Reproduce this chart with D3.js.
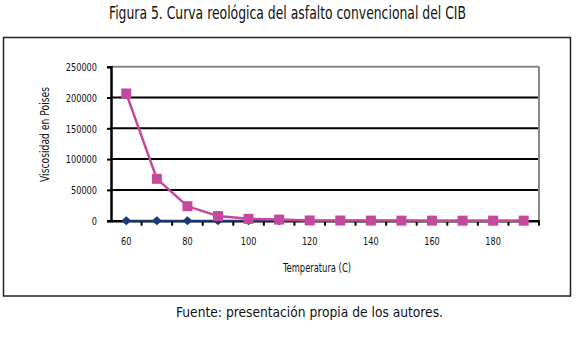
<!DOCTYPE html>
<html><head><meta charset="utf-8">
<script src="https://cdn.jsdelivr.net/npm/d3@7"></script>
<style>
body{margin:0;background:#fff;}
text{font-family:"DejaVu Sans","Liberation Sans",sans-serif;font-stretch:condensed;fill:#111;}
</style></head>
<body>
<script>
const categories = [60,70,80,90,100,110,120,130,140,150,160,170,180,190];
const tickLabels = ["60","80","100","120","140","160","180"];
const seriesBlue = [10,8,6,4,3,2,1.5,1,0.8,0.6,0.5,0.4,0.3,0.2];
const seriesPink = [206500,68000,23500,7500,3000,1800,400,300,200,150,100,80,60,50];
const yTicks = [0,50000,100000,150000,200000,250000];

const W=577,H=341;
const svg=d3.select("body").append("svg").attr("width",W).attr("height",H);
svg.append("rect").attr("width",W).attr("height",H).attr("fill","#fff");

svg.append("text").attr("x",287.5).attr("y",19).attr("text-anchor","middle")
  .attr("font-size",18).attr("textLength",357).attr("lengthAdjust","spacingAndGlyphs")
  .text("Figura 5. Curva reológica del asfalto convencional del CIB");

svg.append("rect").attr("x",3.5).attr("y",37.5).attr("width",567).attr("height",258.5)
  .attr("fill","none").attr("stroke","#222").attr("stroke-width",1.5);

const L=111,R=539,T=66.7,B=220.7;
const x=d3.scaleBand().domain(categories).range([L,R]).padding(0);
const y=d3.scaleLinear().domain([0,250000]).range([B,T]);

// gridlines
svg.append("g").selectAll("line").data(yTicks.filter(d=>d>0)).join("line")
  .attr("x1",L).attr("x2",R).attr("y1",d=>y(d)).attr("y2",d=>y(d))
  .attr("stroke",d=>d===250000?"#888":"#000").attr("stroke-width",2);
// right border
svg.append("line").attr("x1",R).attr("x2",R).attr("y1",T).attr("y2",B).attr("stroke","#888").attr("stroke-width",2);

// y axis
const ya=svg.append("g").attr("transform",`translate(${L},0)`)
  .call(d3.axisLeft(y).tickValues(yTicks).tickSize(4).tickFormat(d3.format("d")));
ya.attr("font-family",null);
ya.select(".domain").attr("stroke","#000").attr("stroke-width",2.5);
ya.selectAll(".tick line").attr("stroke","#000").attr("stroke-width",2);
ya.selectAll(".tick text").attr("font-size",11).attr("x",-14).attr("dy","0.35em")
  .attr("textLength",function(){return this.textContent.length*5.2;}).attr("lengthAdjust","spacingAndGlyphs");

// x axis
const xa=svg.append("g").attr("transform",`translate(0,${B})`)
  .call(d3.axisBottom(x).tickValues(categories).tickSize(0).tickFormat(d=>tickLabels.includes(String(d))?String(d):""));
xa.attr("font-family",null);
xa.select(".domain").attr("stroke","#000").attr("stroke-width",2.5);
xa.selectAll(".tick text").attr("font-size",11).attr("y",17)
  .attr("textLength",function(){return this.textContent.length*5.2;}).attr("lengthAdjust","spacingAndGlyphs");
// category boundary ticks
svg.append("g").selectAll("line").data(categories).join("line")
  .attr("x1",d=>x(d)+x.bandwidth()).attr("x2",d=>x(d)+x.bandwidth())
  .attr("y1",B).attr("y2",B+5).attr("stroke","#000").attr("stroke-width",2);

const cx=d=>x(d)+x.bandwidth()/2;
const line=d3.line().x((d,i)=>cx(categories[i])).y(d=>y(d));

// blue series
svg.append("path").datum(seriesBlue).attr("d",line).attr("fill","none").attr("stroke","#1b3a7c").attr("stroke-width",2);
svg.append("g").selectAll("path").data(seriesBlue).join("path")
  .attr("d","M0,-4.5L5,0L0,4.5L-5,0Z")
  .attr("transform",(d,i)=>`translate(${cx(categories[i])},${y(d)})`).attr("fill","#1b3a7c");

// pink series
svg.append("path").datum(seriesPink).attr("d",line).attr("fill","none").attr("stroke","#c4489e").attr("stroke-width",2.5);
svg.append("g").selectAll("rect").data(seriesPink).join("rect")
  .attr("x",(d,i)=>cx(categories[i])-5).attr("y",d=>y(d)-5).attr("width",10).attr("height",10)
  .attr("fill","#c4489e");

svg.append("text").attr("transform",`translate(49,134.5) rotate(-90)`)
  .attr("text-anchor","middle").attr("font-size",12).attr("textLength",95).attr("lengthAdjust","spacingAndGlyphs")
  .text("Viscosidad  en Poises");
svg.append("text").attr("x",317).attr("y",272).attr("text-anchor","middle").attr("font-size",12)
  .attr("textLength",68).attr("lengthAdjust","spacingAndGlyphs").text("Temperatura (C)");

svg.append("text").attr("x",309.5).attr("y",317).attr("text-anchor","middle").attr("font-size",13.5)
  .attr("textLength",267).attr("lengthAdjust","spacingAndGlyphs")
  .text("Fuente: presentación propia de los autores.");
</script>
</body></html>
